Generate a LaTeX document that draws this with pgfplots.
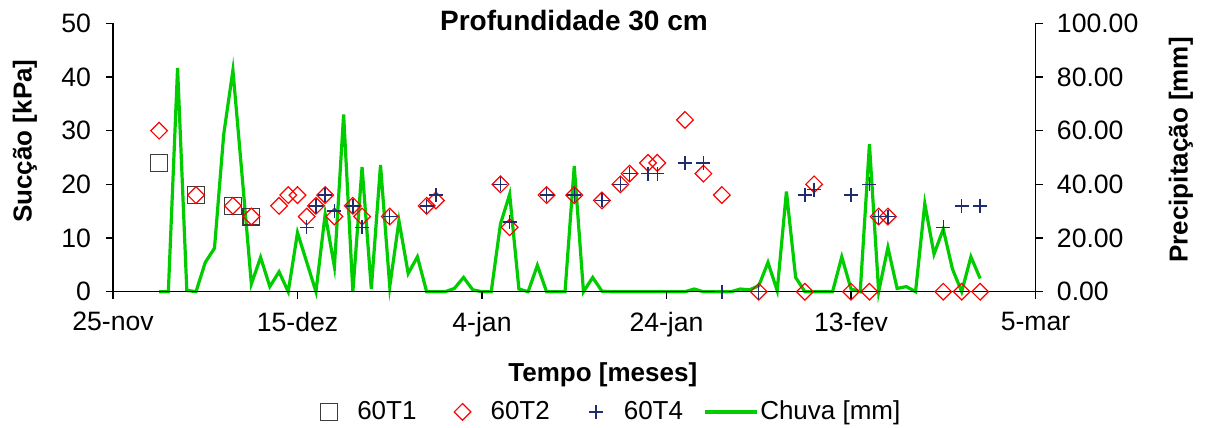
\documentclass[border=0pt]{standalone}
\usepackage{pgfplots}
\pgfplotsset{compat=1.18}
\usepackage{fontspec}
\setmainfont{Liberation Sans}
\definecolor{chuva}{RGB}{0,204,0}
\definecolor{navyp}{RGB}{31,45,110}
\definecolor{sqgray}{RGB}{60,60,60}
\pgfplotsset{rain legend/.style={legend image code/.code={\draw[##1] (0pt,0pt) -- (26pt,0pt);}}}
\begin{document}
\begin{tikzpicture}
\path[use as bounding box] (-56.5pt,-68.15pt) rectangle (547pt,145.85pt);
\begin{axis}[
  at={(0,0)}, anchor=south west, scale only axis,
  width=461.25pt, height=134.2pt,
  xmin=0, xmax=100, ymin=0, ymax=100,
  axis x line=none, axis y line*=right,
  axis line style={-, line width=0.6pt},
  ytick={0,20,...,100},
  yticklabels={0.00,20.00,40.00,60.00,80.00,100.00},
  tick align=outside, major tick length=3.5pt,
  tick style={black, line width=0.6pt},
  yticklabel style={font=\fontsize{13.3}{16}\selectfont, xshift=3.7pt},
  ylabel={Precipitação [mm]},
  every axis y label/.style={at={(axis description cs:1.1577,0.528)}, anchor=center, rotate=90, font=\bfseries\fontsize{13}{16}\selectfont},
  clip=false,
]
\addplot[chuva, line width=1.6pt, mark=none] coordinates {
(5,0) (6,0) (7,83.4) (8,0.5) (9,0) (10,10.9) (11,16.2) (12,58.6) (13,82.5) (14,43)
(15,2.9) (16,12.8) (17,1.9) (18,7.4) (19,0) (20,22) (21,11) (22,0) (23,28.9) (24,9.3)
(25,66) (26,0) (27,46.5) (28,1.0) (29,47.2) (30,1.9) (31,26.4) (32,6.8) (33,13.0) (34,0)
(35,0) (36,0) (37,1.2) (38,5.3) (39,0.7) (40,0) (41,0) (42,25.2) (43,36.3) (44,1.0)
(45,0) (46,9.8) (47,0) (48,0) (49,0) (50,46.8) (51,0) (52,5.3) (53,0.2) (54,0)
(55,0) (56,0) (57,0) (58,0) (59,0) (60,0) (61,0) (62,0) (63,1.0) (64,0)
(65,0) (66,0) (67,0) (68,1.0) (69,0.7) (70,2.2) (71,10.9) (72,0.4) (73,37.3) (74,5.3)
(75,0) (76,0) (77,0) (78,0) (79,13.0) (80,1.0) (81,0) (82,54.9) (83,0) (84,16.5)
(85,1.2) (86,1.9) (87,0) (88,32.8) (89,14.0) (90,23.3) (91,8.4) (92,0) (93,13.0) (94,4.9)
};
\end{axis}
\begin{axis}[
  at={(0,0)}, anchor=south west, scale only axis,
  width=461.25pt, height=134.2pt,
  xmin=0, xmax=100, ymin=0, ymax=50,
  axis x line*=bottom, axis y line*=left,
  axis line style={-, line width=0.6pt},
  xtick={0,20,...,100},
  xticklabels={25-nov,15-dez,4-jan,24-jan,13-fev,5-mar},
  ytick={0,10,...,50},
  /pgf/number format/assume math mode=true,
  tick align=outside, major tick length=3.5pt,
  tick style={black, line width=0.6pt},
  xticklabel style={font=\fontsize{13.3}{16}\selectfont, yshift=-3pt},
  yticklabel style={font=\fontsize{13.3}{16}\selectfont, xshift=-4pt},
  xlabel={Tempo [meses]},
  every axis x label/.style={at={(axis description cs:0.531,-0.3353)}, anchor=base, font=\bfseries\fontsize{13}{16}\selectfont},
  ylabel={Sucção [kPa]},
  every axis y label/.style={at={(axis description cs:-0.0954,0.561)}, anchor=center, rotate=90, font=\bfseries\fontsize{13}{16}\selectfont},
  title={Profundidade 30 cm},
  every axis title/.style={at={(axis description cs:0.4997,0.975)}, anchor=base, font=\bfseries\fontsize{14}{17}\selectfont},
  clip=false,
  legend columns=4,
  legend image code/.code={\path[draw=none,fill=none] (0pt,0pt) -- (26pt,0pt);\draw[#1, only marks] plot coordinates {(13pt,0pt)};},
  legend style={at={(axis description cs:0.531,-0.448)}, anchor=center, draw=none, fill=none,
    font=\fontsize{13}{15}\selectfont, nodes={inner sep=1pt},
    /tikz/every even column/.append style={column sep=9pt}},
]
\addplot[only marks, color=sqgray, mark=square, mark size=4.2pt, mark options={line width=0.6pt, fill=none}] coordinates {
(5,24) (9,18) (13,16) (15,14)
};
\addlegendentry{60T1}
\addplot[only marks, color=red, mark=square, mark size=2.95pt, mark options={rotate=45, line width=0.6pt, fill=none}] coordinates {
(5,30) (9,18) (13,16) (15,14) (18,16) (19,18) (20,18) (21,14) (22,16) (23,18)
(24,14) (26,16) (27,14) (30,14) (34,16) (35,17) (42,20) (43,12) (47,18) (50,18)
(53,17) (55,20) (56,22) (58,24) (59,24) (62,32) (64,22) (66,18) (70,0) (75,0)
(76,20) (80,0) (82,0) (83,14) (84,14) (90,0) (92,0) (94,0)
};
\addlegendentry{60T2}
\addplot[only marks, color=navyp, mark=+, mark size=3.5pt, mark options={line width=0.7pt}] coordinates {
(21,12) (22,16) (23,18) (24,15) (26,16) (27,12) (30,14) (34,16) (35,18) (42,20)
(43,13) (47,18) (50,18) (53,17) (55,20) (56,22) (58,22) (59,22) (62,24) (64,24)
(66,0) (70,0) (75,18) (76,19) (80,18) (82,20) (83,14) (84,14) (90,12) (92,16) (94,16)
};
\addlegendentry{60T4}
\addlegendimage{chuva, line width=1.6pt, rain legend}
\addlegendentry{Chuva [mm]}
\end{axis}
\end{tikzpicture}
\end{document}
